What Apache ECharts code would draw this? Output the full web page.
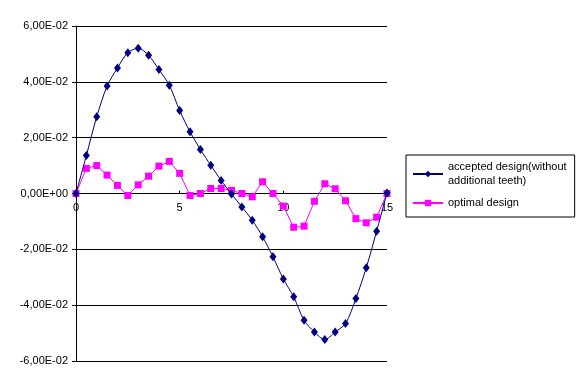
<!DOCTYPE html>
<html>
<head>
<meta charset="utf-8">
<script src="https://cdn.jsdelivr.net/npm/echarts@6/dist/echarts.min.js"></script>
<style>html,body{margin:0;padding:0;background:#fff;}#c{width:583px;height:375px;}</style>
</head>
<body>
<div id="c"></div>
<script>
var xValues = [0,0.5,1,1.5,2,2.5,3,3.5,4,4.5,5,5.5,6,6.5,7,7.5,8,8.5,9,9.5,10,10.5,11,11.5,12,12.5,13,13.5,14,14.5,15];
var acceptedName = 'accepted design(without\nadditional teeth)';
var acceptedValues = [0,0.0136,0.0275,0.0385,0.0450,0.0504,0.0520,0.0495,0.0444,0.0388,0.0297,0.0221,0.0158,0.0101,0.0047,-0.0002,-0.0048,-0.0096,-0.0155,-0.0227,-0.0306,-0.0370,-0.0454,-0.0496,-0.0523,-0.0496,-0.0466,-0.0376,-0.0266,-0.0135,0.0002];
var optimalName = 'optimal design';
var optimalValues = [0,0.0090,0.0100,0.0066,0.0029,-0.0007,0.0031,0.0062,0.0098,0.0115,0.0072,-0.0007,0.0000,0.0018,0.0018,0.0011,0.0000,-0.0012,0.0042,0.0000,-0.0045,-0.0121,-0.0117,-0.0028,0.0035,0.0017,-0.0026,-0.0090,-0.0105,-0.0085,0.0000];
var yTicks = [-0.06,-0.04,-0.02,0,0.02,0.04,0.06];

function pair(vals){ return xValues.map(function(x,i){ return [x, vals[i]]; }); }
function fmtE(v){
  if (Math.abs(v) < 1e-12) return '0,00E+00';
  var s = v.toExponential(2);
  var parts = s.split('e');
  var m = parts[0].replace('.', ',');
  var e = parseInt(parts[1],10);
  var es = (e < 0 ? '-' : '+') + (Math.abs(e) < 10 ? '0' : '') + Math.abs(e);
  return m + 'E' + es;
}
var font = 'Liberation Sans, Arial, sans-serif';
var W = 583, H = 375, gTop = 26, gBottom = 14;
var gridH = H - gTop - gBottom;
var yMin = yTicks[0], yMax = yTicks[yTicks.length - 1];
// place the x axis where y = 0 (as in the reference, axis crosses at zero)
var zeroOffset = -gridH * (0 - yMin) / (yMax - yMin);
var chart = echarts.init(document.getElementById('c'));
chart.setOption({
  animation: false,
  backgroundColor: '#fff',
  grid: { left: 76, right: 196, top: gTop, bottom: gBottom, containLabel: false },
  legend: {
    orient: 'vertical', left: 406, top: 155,
    backgroundColor: '#fff', borderColor: '#000', borderWidth: 1,
    padding: [5, 8, 7, 6], itemGap: 8, itemWidth: 30, itemHeight: 8,
    textStyle: { fontFamily: font, fontSize: 11, color: '#000', lineHeight: 14 },
    data: [acceptedName, optimalName]
  },
  xAxis: {
    type: 'value', min: 0, max: 15, interval: 5, position: 'bottom', offset: zeroOffset,
    axisLine: { onZero: false, lineStyle: { color: '#000', width: 1 } },
    axisTick: { show: true, inside: true, length: 3, lineStyle: { color: '#000' } },
    axisLabel: { fontFamily: font, fontSize: 11, color: '#000', margin: 9 },
    splitLine: { show: false }
  },
  yAxis: {
    type: 'value', min: yMin, max: yMax, interval: 0.02,
    axisLine: { show: true, onZero: false, lineStyle: { color: '#000', width: 1 } },
    axisTick: { show: true, length: 4, lineStyle: { color: '#000' } },
    axisLabel: { fontFamily: font, fontSize: 11, color: '#000', margin: 8, formatter: function(v){ return fmtE(v); } },
    splitLine: { show: true, lineStyle: { color: '#000', width: 1 } }
  },
  series: [
    {
      name: acceptedName, type: 'line', data: pair(acceptedValues), smooth: 0.3,
      symbol: 'diamond', symbolSize: [7, 9],
      lineStyle: { color: '#000080', width: 1 },
      itemStyle: { color: '#000080' }, z: 3
    },
    {
      name: optimalName, type: 'line', data: pair(optimalValues), smooth: false,
      symbol: 'rect', symbolSize: 7,
      lineStyle: { color: '#FF00FF', width: 1 },
      itemStyle: { color: '#FF00FF' }, z: 2
    }
  ]
});
</script>
</body>
</html>
